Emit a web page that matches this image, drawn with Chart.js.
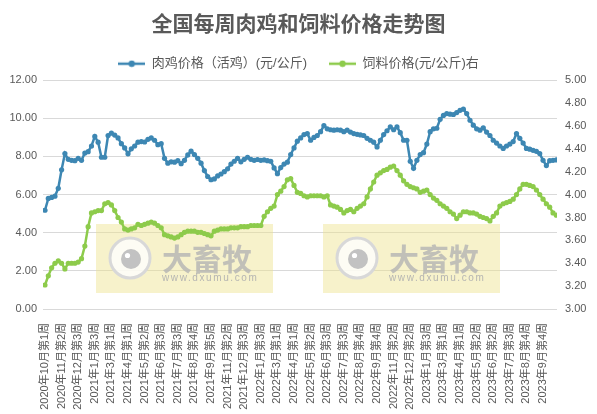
<!DOCTYPE html>
<html>
<head>
<meta charset="utf-8">
<script src="https://cdn.jsdelivr.net/npm/chart.js@4/dist/chart.umd.min.js"></script>
<style>
  html, body { margin: 0; padding: 0; background: #fff; }
  #wrap { width: 597px; height: 414px; }
</style>
</head>
<body>
<div id="wrap"><canvas id="chart" width="597" height="414"></canvas></div>
<script>
// weekly tick labels (one every 5 weeks)
const tickLabels = [
  '2020年10月第1周', '2020年11月第2周', '2020年12月第3周', '2021年1月第3周', '2021年3月第1周',
  '2021年4月第1周', '2021年5月第2周', '2021年6月第3周', '2021年7月第3周', '2021年8月第4周',
  '2021年9月第5周', '2021年11月第2周', '2021年12月第3周', '2022年1月第3周', '2022年3月第1周',
  '2022年4月第1周', '2022年5月第2周', '2022年6月第3周', '2022年7月第3周', '2022年8月第4周',
  '2022年9月第4周', '2022年11月第2周', '2022年12月第2周', '2023年1月第3周', '2023年3月第1周',
  '2023年4月第1周', '2023年5月第2周', '2023年6月第2周', '2023年7月第3周', '2023年8月第4周',
  '2023年9月第4周'
];

// 肉鸡价格（活鸡） 元/公斤, left axis
const chickenPrice = [
  5.18, 5.80, 5.85, 5.92, 6.33, 7.30, 8.15, 7.85, 7.80, 7.78, 7.90, 7.80,
  8.18, 8.25, 8.55, 9.05, 8.75, 7.96, 7.96, 9.10, 9.22, 9.12, 8.97, 8.67, 8.45, 8.14,
  8.40, 8.55, 8.75, 8.78, 8.76, 8.90, 8.97, 8.85, 8.62, 8.67, 7.90, 7.65, 7.72, 7.70, 7.78, 7.62, 7.80,
  8.08, 8.28, 8.10, 7.90, 7.65, 7.26, 6.95, 6.78, 6.82, 6.98, 7.08, 7.20, 7.35, 7.60, 7.75,
  7.90, 7.72, 7.85, 7.96, 7.85, 7.80, 7.84, 7.80, 7.82, 7.78, 7.75, 7.40, 7.10, 7.42, 7.60,
  7.70, 8.10, 8.45, 8.80, 8.97,
  9.15, 9.20, 8.85, 9.00, 9.10, 9.30, 9.62, 9.45, 9.40, 9.38, 9.40, 9.38, 9.30, 9.38, 9.28,
  9.20, 9.16, 9.13, 9.10, 8.95, 8.85, 8.75, 8.50, 8.85, 9.15, 9.35, 9.55, 9.40,
  9.55, 9.25, 8.85, 8.85, 7.75, 7.38, 7.80, 8.10, 8.20, 8.65, 9.30, 9.45, 9.48, 9.95, 10.15,
  10.25, 10.22, 10.20, 10.30, 10.42, 10.48, 10.25, 9.90, 9.64, 9.45, 9.38, 9.50, 9.28, 9.10,
  8.85, 8.70, 8.55, 8.42, 8.55, 8.65, 8.78, 9.20, 8.95, 8.70, 8.42, 8.38, 8.32, 8.27, 8.15,
  7.80, 7.52, 7.78, 7.80, 7.82
];

// 饲料价格 元/公斤, right axis
const feedPrice = [
  3.21, 3.29, 3.36, 3.40, 3.42, 3.40, 3.35, 3.40, 3.40, 3.40, 3.41, 3.44,
  3.55, 3.72, 3.84, 3.85, 3.86, 3.86, 3.92, 3.93, 3.91, 3.86, 3.80, 3.76, 3.70, 3.69,
  3.70, 3.71, 3.74, 3.73, 3.74, 3.75, 3.76, 3.75, 3.73, 3.71, 3.65, 3.64, 3.63, 3.62, 3.63, 3.65, 3.67,
  3.68, 3.68, 3.68, 3.67, 3.67, 3.66, 3.65, 3.64, 3.68, 3.69, 3.70, 3.70, 3.70, 3.71, 3.71,
  3.71, 3.72, 3.72, 3.72, 3.73, 3.73, 3.73, 3.73, 3.81, 3.85, 3.88, 3.90, 4.00, 4.03, 4.07,
  4.13, 4.14, 4.08, 4.02, 4.01,
  3.99, 3.98, 3.99, 3.99, 3.99, 3.99, 3.98, 3.99, 3.91, 3.90, 3.89, 3.87, 3.84, 3.86, 3.87,
  3.85, 3.88, 3.90, 3.92, 3.98, 4.05, 4.11, 4.17, 4.19, 4.21, 4.22, 4.24, 4.25,
  4.21, 4.17, 4.12, 4.09, 4.07, 4.06, 4.05, 4.02, 4.03, 4.04, 4.00, 3.97, 3.95, 3.92, 3.90,
  3.88, 3.85, 3.83, 3.79, 3.82, 3.85, 3.85, 3.84, 3.84, 3.83, 3.81, 3.80, 3.79, 3.77,
  3.81, 3.84, 3.90, 3.92, 3.93, 3.94, 3.96, 4.00, 4.05, 4.09, 4.09, 4.08, 4.07, 4.04, 4.00,
  3.96, 3.92, 3.89, 3.84, 3.82
];

const BLUE = '#3d87b3';
const GREEN = '#8dcb4b';
const TEXT = '#595959';
const FONT = '"Liberation Sans", "Noto Sans CJK SC", sans-serif';

// legend symbol: short line with a dot in the middle
function legendIcon(color) {
  const c = document.createElement('canvas');
  c.width = 27; c.height = 8;
  const g = c.getContext('2d');
  g.strokeStyle = color; g.lineWidth = 2.5;
  g.beginPath(); g.moveTo(0, 4); g.lineTo(27, 4); g.stroke();
  g.fillStyle = color;
  g.beginPath(); g.arc(13.5, 4, 3.2, 0, Math.PI * 2); g.fill();
  return c;
}

// the two yellow "大畜牧" stamps sitting in the plot
const watermark = {
  id: 'watermark',
  beforeDatasetsDraw(chart) {
    const ctx = chart.ctx;
    [96, 323].forEach(function (left) {
      ctx.save();
      ctx.fillStyle = 'rgba(238, 226, 140, 0.45)';
      ctx.fillRect(left, 224, 177, 69);
      const cx = left + 34, cy = 258;
      ctx.fillStyle = 'rgba(255,255,255,0.8)';
      ctx.beginPath(); ctx.arc(cx, cy, 21, 0, Math.PI * 2); ctx.fill();
      ctx.strokeStyle = '#d8d8d8'; ctx.lineWidth = 3;
      ctx.beginPath(); ctx.arc(cx, cy, 20, 0, Math.PI * 2); ctx.stroke();
      ctx.fillStyle = '#c2c2c2';
      ctx.beginPath(); ctx.arc(cx + 1, cy + 1, 10, 0, Math.PI * 2); ctx.fill();
      ctx.fillStyle = '#ffffff';
      ctx.beginPath(); ctx.arc(cx - 2.5, cy - 2.5, 2.6, 0, Math.PI * 2); ctx.fill();
      ctx.fillStyle = 'rgba(180,180,180,0.8)';
      ctx.font = 'bold 30px "Noto Sans CJK SC"';
      ctx.textBaseline = 'alphabetic';
      ctx.fillText('大畜牧', left + 66, 270);
      ctx.font = '10px "Liberation Sans"';
      ctx.letterSpacing = '1.6px';
      ctx.fillStyle = 'rgba(175,175,175,0.9)';
      ctx.fillText('www.dxumu.com', left + 66, 281);
      ctx.restore();
    });
  }
};

new Chart(document.getElementById('chart'), {
  type: 'line',
  data: {
    datasets: [
      {
        label: '肉鸡价格（活鸡）(元/公斤)',
        data: chickenPrice.map(function (v, i) { return { x: i, y: v }; }),
        borderColor: BLUE,
        backgroundColor: BLUE,
        borderWidth: 2.5,
        pointRadius: 2.6,
        pointBorderWidth: 0,
        tension: 0,
        yAxisID: 'y'
      },
      {
        label: '饲料价格(元/公斤)右',
        data: feedPrice.map(function (v, i) { return { x: i, y: v }; }),
        borderColor: GREEN,
        backgroundColor: GREEN,
        borderWidth: 2.5,
        pointRadius: 2.6,
        pointBorderWidth: 0,
        tension: 0,
        yAxisID: 'y1'
      }
    ]
  },
  options: {
    responsive: false,
    animation: false,
    devicePixelRatio: 1,
    layout: { padding: 0 },
    plugins: {
      title: {
        display: true,
        text: '全国每周肉鸡和饲料价格走势图',
        color: TEXT,
        font: { family: '"Noto Sans CJK SC"', size: 21, weight: 'bold' },
        padding: { top: 10, bottom: 0 }
      },
      legend: {
        display: true,
        maxHeight: 52,
        labels: {
          color: TEXT,
          font: { family: FONT, size: 13 },
          usePointStyle: true,
          pointStyleWidth: 27,
          boxHeight: 8,
          padding: 22,
          generateLabels: function (chart) {
            return chart.data.datasets.map(function (ds, i) {
              return {
                text: ds.label,
                pointStyle: legendIcon(ds.borderColor),
                fillStyle: ds.borderColor,
                strokeStyle: ds.borderColor,
                lineWidth: 0,
                fontColor: TEXT,
                datasetIndex: i,
                hidden: false
              };
            });
          }
        }
      },
      tooltip: { enabled: false }
    },
    scales: {
      x: {
        type: 'linear',
        min: -0.6,
        max: 154.2,
        grid: { display: false },
        border: { display: false },
        afterFit: function (scale) { scale.height = 105; },
        ticks: {
          stepSize: 5,
          autoSkip: false,
          includeBounds: false,
          maxRotation: 90,
          minRotation: 90,
          padding: 6,
          color: TEXT,
          font: { family: FONT, size: 11 },
          callback: function (v) {
            const k = v / 5;
            return Number.isInteger(k) && tickLabels[k] ? tickLabels[k] : null;
          }
        }
      },
      y: {
        position: 'left',
        min: 0,
        max: 12,
        grid: { color: '#d9d9d9', lineWidth: 1, drawTicks: false },
        border: { display: false },
        afterFit: function (scale) { scale.width = 43; },
        ticks: {
          stepSize: 2,
          padding: 6,
          color: TEXT,
          font: { family: FONT, size: 11 },
          callback: function (v) { return v.toFixed(2); }
        }
      },
      y1: {
        position: 'right',
        min: 3,
        max: 5,
        grid: { display: false, drawTicks: false },
        border: { display: false },
        afterFit: function (scale) { scale.width = 40; },
        ticks: {
          stepSize: 0.2,
          padding: 8,
          color: TEXT,
          font: { family: FONT, size: 11 },
          callback: function (v) { return v.toFixed(2); }
        }
      }
    }
  },
  plugins: [watermark]
});
</script>
</body>
</html>
